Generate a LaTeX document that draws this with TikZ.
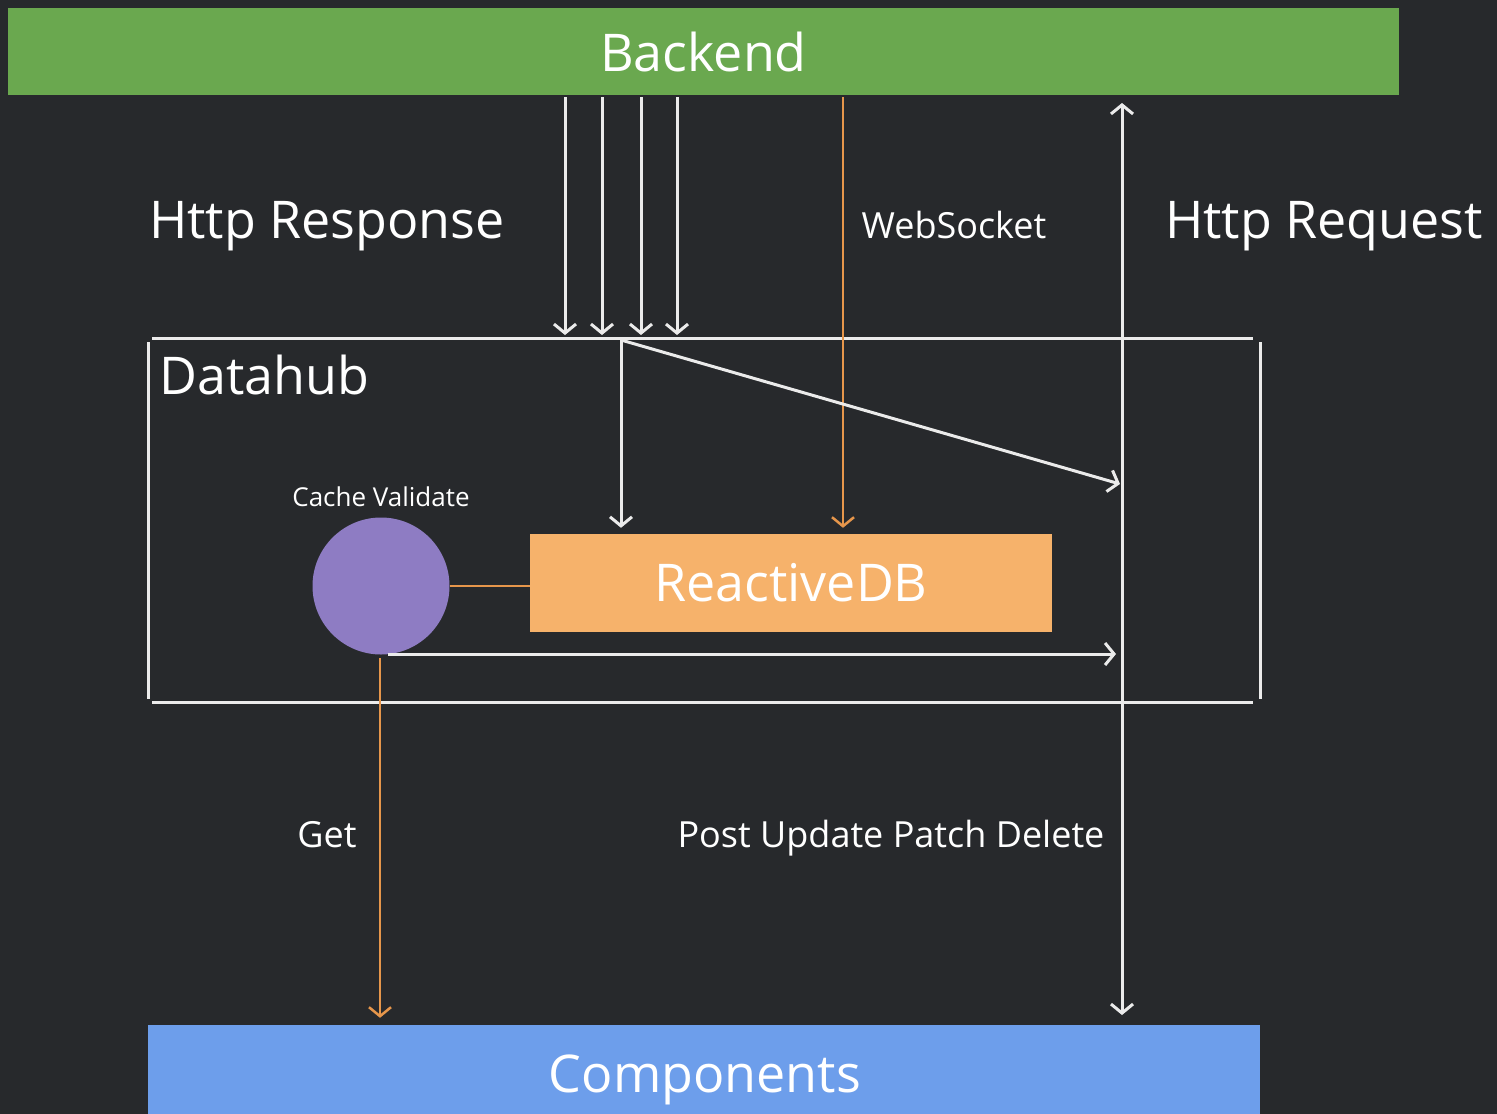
\documentclass[tikz,border=0pt]{standalone}
\usepackage{fontspec}
\setmainfont{Open Sans}
\usetikzlibrary{arrows.meta}
\definecolor{bg}{RGB}{39,41,44}
\definecolor{bgreen}{RGB}{106,168,79}
\definecolor{rorange}{RGB}{246,178,107}
\definecolor{lorange}{RGB}{230,150,75}
\definecolor{cpurple}{RGB}{142,124,195}
\definecolor{cblue}{RGB}{109,158,235}
\definecolor{lwhite}{RGB}{235,235,235}
\tikzset{
  bigtxt/.style={font=\fontsize{52}{60}\selectfont, text=white},
  midtxt/.style={font=\fontsize{36}{42}\selectfont, text=white},
  smalltxt/.style={font=\fontsize{26}{30}\selectfont, text=white},
  boxnode/.style={inner sep=0pt, draw=none},
  wline/.style={draw=lwhite, line width=3pt},
  oline/.style={draw=lorange, line width=2.5pt},
  tip/.style={-{Straight Barb[length=9pt,width=22pt,line width=3pt]}},
  otip/.style={-{Straight Barb[length=9pt,width=22pt,line width=2.5pt]}},
  dtip/.style={{Straight Barb[length=9pt,width=22pt,line width=3pt]}-{Straight Barb[length=9pt,width=22pt,line width=3pt]}},
}
\begin{document}
\begin{tikzpicture}[x=1pt,y=-1pt]
\fill[bg] (0,0) rectangle (1497,1114);
\useasboundingbox (0,0) rectangle (1497,1114);
\begin{scope}
\clip (0,0) rectangle (1497,1114);

% main boxes
\node[boxnode, fill=bgreen, minimum width=1391pt, minimum height=87pt, bigtxt] (backend) at (703.5,51.5) {Backend};
\node[boxnode, fill=cblue, minimum width=1112pt, minimum height=100pt] (comp) at (704,1075) {};
\node[bigtxt, anchor=base] (comptxt) at (705,1092) {Components};
\node[boxnode, fill=rorange, minimum width=522pt, minimum height=98pt, bigtxt] (rdb) at (791,583) {ReactiveDB};
\node[circle, fill=cpurple, minimum size=137pt, inner sep=0pt] (cv) at (381,586) {};

% Datahub frame (four separate lines)
\coordinate (tl) at (152,338);
\coordinate (tr) at (1253,338);
\coordinate (bl) at (152,702);
\coordinate (br) at (1253,702);
\coordinate (lt) at (148,342);
\coordinate (lb) at (148,699);
\coordinate (rt) at (1260,342);
\coordinate (rb) at (1260,699);
\draw[wline] (tl) -- (tr);
\draw[wline] (bl) -- (br);
\draw[wline] (lt) -- (lb);
\draw[wline] (rt) -- (rb);

% labels
\node[bigtxt, anchor=base] (lresp) at (327,238) {Http Response};
\node[midtxt, anchor=base] (lws) at (954,238) {WebSocket};
\node[bigtxt, anchor=base] (lreq) at (1324,238) {Http Request};
\node[bigtxt, anchor=base west, inner sep=0pt] (ldh) at (159,394) {Datahub};
\node[smalltxt, anchor=base] (lcv) at (381,506) {Cache Validate};
\node[midtxt, anchor=base] (lget) at (327,847) {Get};
\node[midtxt, anchor=base] (lpost) at (891,847) {Post Update Patch Delete};

% Http response arrows
\foreach \x/\n in {565/a,602/b,641/c,677/d}{
  \coordinate (s\n) at (\x,97);
  \coordinate (e\n) at (\x,335);
  \draw[wline, tip] (s\n) -- (e\n);
}

% WebSocket
\coordinate (wss) at (843,97);
\draw[oline, otip] (wss) -- ([yshift=6pt]rdb.north -| wss);

% Http request double arrow
\coordinate (hrt) at (1122,103);
\coordinate (hrb) at (1122,1015);
\draw[wline, dtip] (hrt) -- (hrb);

% inside datahub
\coordinate (split) at (621,340);
\draw[wline, tip] (split) -- ([yshift=6pt]rdb.north -| split);
\coordinate (diagend) at (1120,484);
\draw[wline, tip] (split) -- (diagend);

\draw[oline] (cv.east) -- (cv.east -| rdb.west);
\coordinate (cvout) at (388,654);
\coordinate (cvend) at (1116,654);
\draw[wline, tip] (cvout) -- (cvend);

\coordinate (gets) at (380,658);
\draw[oline, otip] (gets) -- ([yshift=7pt]comp.north -| gets);
\end{scope}
\end{tikzpicture}
\end{document}
